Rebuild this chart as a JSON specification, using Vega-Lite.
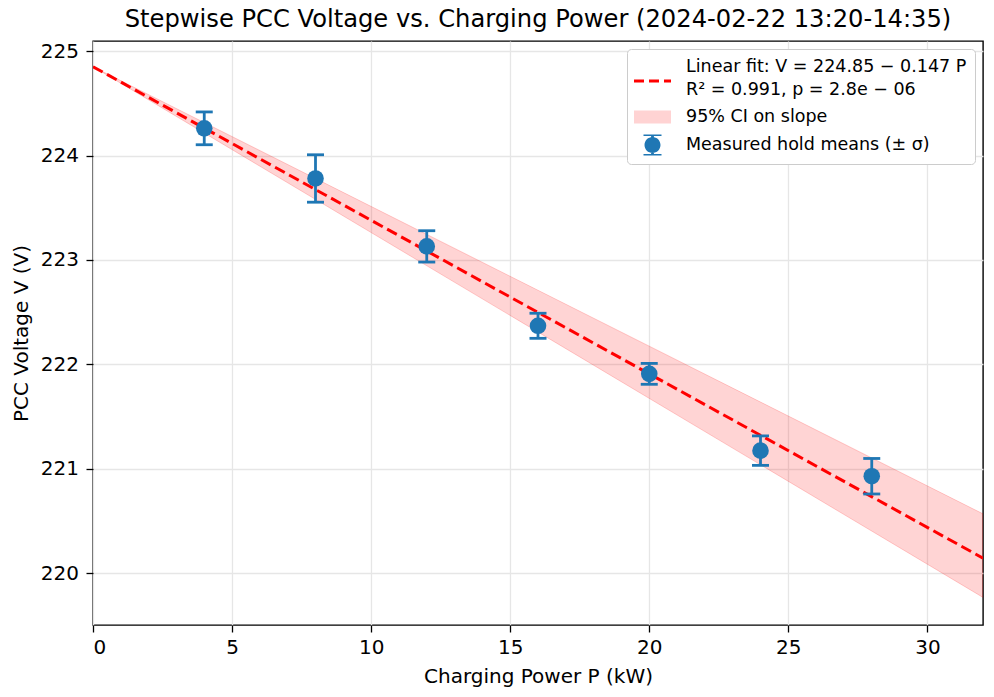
{
  "$schema": "https://vega.github.io/schema/vega-lite/v6.json",
  "width": 890,
  "height": 584,
  "autosize": {"type": "none"},
  "padding": {"left": 93, "top": 41, "right": 11, "bottom": 72},
  "background": "white",
  "title": {
    "text": "Stepwise PCC Voltage vs. Charging Power (2024-02-22 13:20-14:35)",
    "font": "DejaVu Sans",
    "fontSize": 24.2,
    "fontWeight": "normal",
    "color": "black",
    "anchor": "middle",
    "frame": "group",
    "baseline": "alphabetic",
    "offset": 14,
    "dy": 24
  },
  "datasets": {
    "band": [
      {"P": 0, "lo": 224.85, "hi": 224.85},
      {"P": 32, "lo": 219.77, "hi": 220.57}
    ],
    "fit": [
      {"P": 0, "V": 224.85},
      {"P": 32, "V": 220.146}
    ],
    "holds": [
      {"P": 4, "V": 224.26, "sd": 0.157, "series": "measured"},
      {"P": 8, "V": 223.78, "sd": 0.227, "series": "measured"},
      {"P": 12, "V": 223.13, "sd": 0.15, "series": "measured"},
      {"P": 16, "V": 222.37, "sd": 0.12, "series": "measured"},
      {"P": 20, "V": 221.91, "sd": 0.1, "series": "measured"},
      {"P": 24, "V": 221.175, "sd": 0.141, "series": "measured"},
      {"P": 28, "V": 220.93, "sd": 0.17, "series": "measured"}
    ]
  },
  "encoding": {
    "x": {
      "field": "P", "type": "quantitative",
      "scale": {"domain": [0, 32], "nice": false, "zero": false},
      "axis": {"values": [0, 5, 10, 15, 20, 25, 30], "format": "d"},
      "title": "Charging Power P (kW)"
    }
  },
  "layer": [
    {
      "data": {"name": "band"},
      "mark": {"type": "area", "fill": "#ff0000", "fillOpacity": 0.17, "stroke": "#ff0000", "strokeOpacity": 0.18, "strokeWidth": 1, "clip": true},
      "encoding": {
        "y": {"field": "lo", "type": "quantitative",
          "scale": {"domain": [219.506, 225.096], "nice": false, "zero": false},
          "axis": {"values": [220, 221, 222, 223, 224, 225], "format": "d"},
          "title": "PCC Voltage V (V)"},
        "y2": {"field": "hi"}
      }
    },
    {
      "data": {"name": "fit"},
      "mark": {"type": "line", "color": "#ff0000", "strokeWidth": 3, "strokeDash": [11, 5], "clip": true},
      "encoding": {
        "y": {"field": "V", "type": "quantitative", "title": "PCC Voltage V (V)"}
      }
    },
    {
      "data": {"name": "holds"},
      "mark": {"type": "errorbar", "ticks": true, "size": 17, "thickness": 2.8, "color": "#1f77b4", "opacity": 1},
      "encoding": {
        "y": {"field": "V", "type": "quantitative", "title": "PCC Voltage V (V)"},
        "yError": {"field": "sd"}
      }
    },
    {
      "data": {"name": "holds"},
      "mark": {"type": "point", "filled": true, "size": 275, "opacity": 1, "color": "#1f77b4", "shape": "circle"},
      "encoding": {
        "y": {"field": "V", "type": "quantitative", "title": "PCC Voltage V (V)"}
      }
    },
    {
      "data": {"name": "holds"},
      "transform": [{"filter": "datum.P < 0"}],
      "mark": {"type": "point", "filled": true, "opacity": 1},
      "encoding": {
        "y": {"field": "V", "type": "quantitative", "title": "PCC Voltage V (V)"},
        "color": {
          "field": "series", "type": "nominal",
          "scale": {"domain": ["fit", "ci", "measured"], "range": ["#ff0000", "#ffd3d3", "#1f77b4"]},
          "legend": {
            "title": null,
            "orient": "top-right",
            "offset": 8,
            "labelExpr": "datum.value == 'fit' ? ['Linear fit: V = 224.85 − 0.147 P', 'R² = 0.991, p = 2.8e − 06'] : datum.value == 'ci' ? '95% CI on slope' : 'Measured hold means (± σ)'",
            "encode": {"labels": {"update": {"lineHeight": {"value": 23}}}}
          }
        },
        "shape": {
          "field": "series", "type": "nominal",
          "scale": {"domain": ["fit", "ci", "measured"], "range": [
            "M-1.85,1.25H-0.85V1.55H-1.85Z M-0.35,1.25H0.65V1.55H-0.35Z M1.15,1.25H1.85V1.55H1.15Z",
            "M-1.85,-0.65H1.85V0.65H-1.85Z",
            "M-0.8,0A0.8,0.8,0,1,1,0.8,0A0.8,0.8,0,1,1,-0.8,0Z M-0.9,-1.05H0.9V-0.9H-0.9Z M-0.9,0.9H0.9V1.05H-0.9Z M-0.14,-1.05H0.14V1.05H-0.14Z"
          ]},
          "legend": {
            "title": null,
            "orient": "top-right",
            "offset": 8,
            "labelExpr": "datum.value == 'fit' ? ['Linear fit: V = 224.85 − 0.147 P', 'R² = 0.991, p = 2.8e − 06'] : datum.value == 'ci' ? '95% CI on slope' : 'Measured hold means (± σ)'",
            "encode": {"labels": {"update": {"lineHeight": {"value": 23}}}}
          }
        }
      }
    }
  ],
  "config": {
    "font": "DejaVu Sans",
    "view": {"stroke": "black", "strokeWidth": 1.4},
    "axis": {
      "labelFont": "DejaVu Sans",
      "labelFontSize": 20,
      "labelColor": "black",
      "titleFont": "DejaVu Sans",
      "titleFontSize": 20,
      "titleFontWeight": "normal",
      "titleColor": "black",
      "tickColor": "black",
      "tickSize": 7,
      "tickWidth": 1.3,
      "domain": false,
      "gridColor": "#e6e6e6",
      "gridWidth": 1.3
    },
    "axisX": {"titlePadding": 9, "labelPadding": 5},
    "axisY": {"titlePadding": 9, "labelPadding": 7.5},
    "legend": {
      "labelFont": "DejaVu Sans",
      "labelFontSize": 17.5,
      "labelColor": "black",
      "labelLimit": 400,
      "symbolSize": 400,
      "symbolOffset": 7.5,
      "symbolOpacity": 1,
      "symbolStrokeWidth": 0,
      "fillColor": "white",
      "strokeColor": "#cccccc",
      "cornerRadius": 4,
      "padding": 8,
      "rowPadding": 8,
      "labelOffset": 23.5
    }
  }
}
